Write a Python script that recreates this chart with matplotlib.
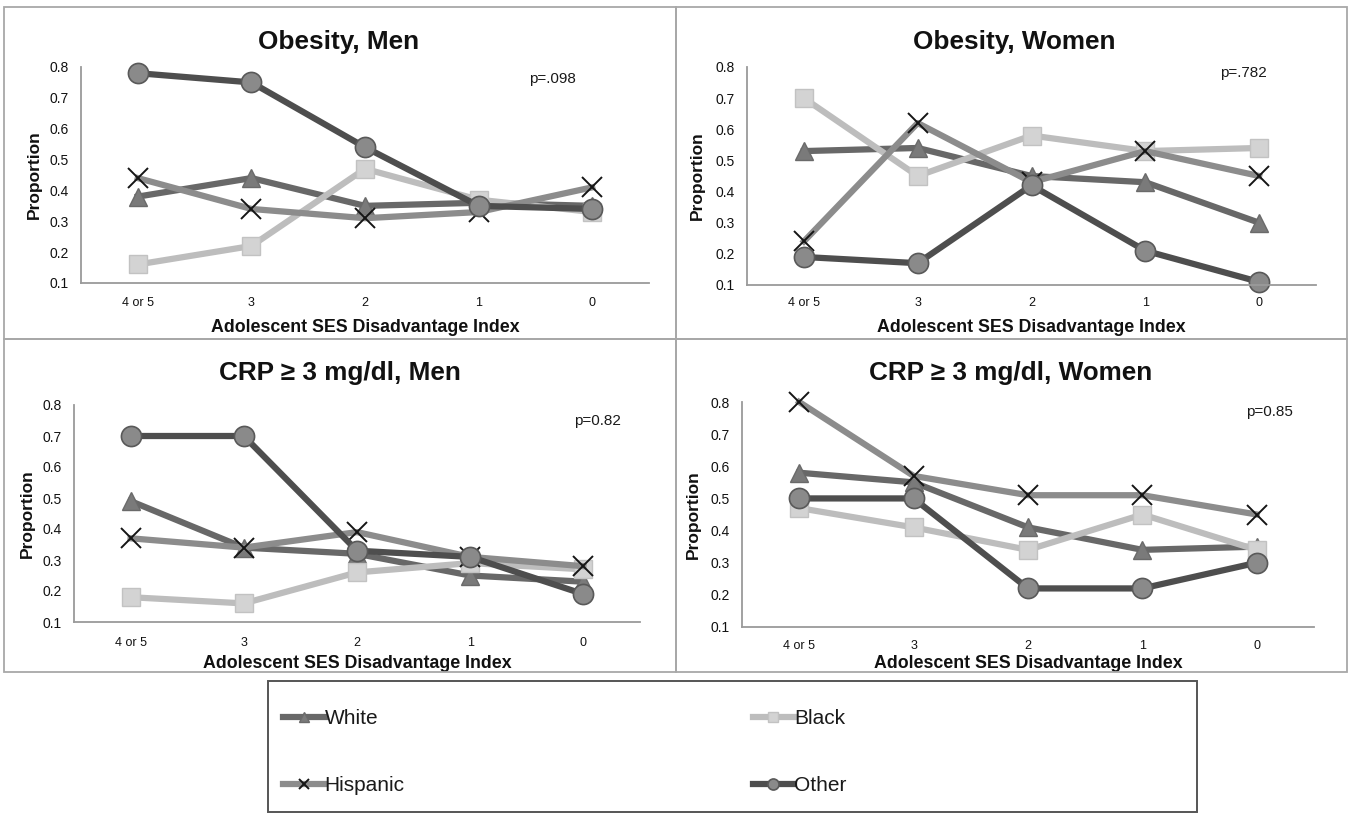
import matplotlib
matplotlib.use("Agg")
import matplotlib.pyplot as plt
from matplotlib.patches import Rectangle

plt.rcParams['font.family'] = ['Liberation Sans', 'DejaVu Sans']

# ---- data -------------------------------------------------------------
categories = ['4 or 5', '3', '2', '1', '0']
groups = ['White', 'Black', 'Hispanic', 'Other']

obesity_men_white = [0.38, 0.44, 0.35, 0.36, 0.35]
obesity_men_black = [0.16, 0.22, 0.47, 0.37, 0.33]
obesity_men_hispanic = [0.44, 0.34, 0.31, 0.33, 0.41]
obesity_men_other = [0.78, 0.75, 0.54, 0.35, 0.34]

obesity_women_white = [0.53, 0.54, 0.45, 0.43, 0.30]
obesity_women_black = [0.70, 0.45, 0.58, 0.53, 0.54]
obesity_women_hispanic = [0.24, 0.62, 0.43, 0.53, 0.45]
obesity_women_other = [0.19, 0.17, 0.42, 0.21, 0.11]

crp_men_white = [0.49, 0.34, 0.32, 0.25, 0.23]
crp_men_black = [0.18, 0.16, 0.26, 0.29, 0.27]
crp_men_hispanic = [0.37, 0.34, 0.39, 0.31, 0.28]
crp_men_other = [0.70, 0.70, 0.33, 0.31, 0.19]

crp_women_white = [0.58, 0.55, 0.41, 0.34, 0.35]
crp_women_black = [0.47, 0.41, 0.34, 0.45, 0.34]
crp_women_hispanic = [0.80, 0.57, 0.51, 0.51, 0.45]
crp_women_other = [0.50, 0.50, 0.22, 0.22, 0.30]

panel_titles = ['Obesity, Men', 'Obesity, Women',
                'CRP \u2265 3 mg/dl, Men', 'CRP \u2265 3 mg/dl, Women']
panel_pvalues = ['p=.098', 'p=.782', 'p=0.82', 'p=0.85']
yticks = [0.1, 0.2, 0.3, 0.4, 0.5, 0.6, 0.7, 0.8]

panel_series = [
    [obesity_men_white, obesity_men_black, obesity_men_hispanic, obesity_men_other],
    [obesity_women_white, obesity_women_black, obesity_women_hispanic, obesity_women_other],
    [crp_men_white, crp_men_black, crp_men_hispanic, crp_men_other],
    [crp_women_white, crp_women_black, crp_women_hispanic, crp_women_other],
]

# ---- styling ----------------------------------------------------------
styles = {
    'White': dict(color='#686868', marker='^', markerfacecolor='#7a7a7a',
                  markeredgecolor='#6a6a6a', markersize=13),
    'Black': dict(color='#bdbdbd', marker='s', markerfacecolor='#d3d3d3',
                  markeredgecolor='#c2c2c2', markersize=13),
    'Hispanic': dict(color='#8c8c8c', marker='x', markeredgecolor='#151515',
                     markeredgewidth=1.4, markersize=14),
    'Other': dict(color='#4e4e4e', marker='o', markerfacecolor='#8a8a8a',
                  markeredgecolor='#595959', markeredgewidth=1.2, markersize=14.5),
}

W, H = 1351, 815
fig = plt.figure(figsize=(W / 100, H / 100), dpi=100)
fig.patch.set_facecolor('white')


def fx(px):
    return px / W


def fy(py):
    return 1 - py / H


# axes rectangles in pixels: left, top, right, bottom
axes_px = [
    (81, 67, 649, 283),
    (747, 67, 1316, 285),
    (74, 405, 640, 622),
    (742, 402, 1314, 627),
]
title_px = [(339, 42), (1014, 42), (340, 373), (1011, 373)]
pval_px = [(552, 79), (1243, 73), (597, 421), (1269, 412)]
xtick_y_px = [302, 302, 642, 645]
xlabel_y_px = [327, 328, 663, 663]
ylabel_x_px = [34, 697, 27, 693]

# panel frames
frames_px = [(4, 7, 676, 339), (676, 7, 1347, 339),
             (4, 339, 676, 672), (676, 339, 1347, 672)]
for (l, t, r, b) in frames_px:
    fig.add_artist(Rectangle((fx(l), fy(b)), fx(r - l), (b - t) / H,
                             transform=fig.transFigure, fill=False,
                             edgecolor='#a8a8a8', linewidth=1.3))

x = list(range(len(categories)))
handles = {}
for i, (l, t, r, b) in enumerate(axes_px):
    ax = fig.add_axes([fx(l), fy(b), fx(r - l), (b - t) / H])
    for name, vals in zip(groups, panel_series[i]):
        ln, = ax.plot(x, vals, linewidth=4.5, label=name, clip_on=False,
                      solid_joinstyle='round', **styles[name])
        if i == 0:
            handles[name] = ln
    ax.set_xlim(-0.5, len(categories) - 0.5)
    ax.set_ylim(0.1, 0.8)
    ax.set_xticks(x)
    ax.set_xticklabels(categories)
    ax.set_yticks(yticks)
    ax.set_yticklabels([f'{v:.1f}' for v in yticks])
    for s in ('top', 'right'):
        ax.spines[s].set_visible(False)
    for s in ('left', 'bottom'):
        ax.spines[s].set_color('#9a9a9a')
        ax.spines[s].set_linewidth(1.3)
    hpx = b - t
    xpad = (xtick_y_px[i] - b - 5) * 0.72
    ax.tick_params(axis='x', length=0, pad=xpad, labelsize=9, labelcolor='#111111')
    ax.tick_params(axis='y', length=0, pad=9, labelsize=10, labelcolor='#111111')
    ax.set_xlabel('Adolescent SES Disadvantage Index', fontsize=12.8,
                  fontweight='bold', color='#111111')
    ax.xaxis.set_label_coords(0.5, (b - xlabel_y_px[i]) / hpx)
    ax.xaxis.label.set_va('center')
    ax.set_ylabel('Proportion', fontsize=12.5, fontweight='bold', color='#111111')
    ax.yaxis.set_label_coords((ylabel_x_px[i] - l) / (r - l), 0.5)
    ax.yaxis.label.set_va('center')
    ax.set_facecolor('none')

    tx, ty = title_px[i]
    fig.text(fx(tx), fy(ty), panel_titles[i], ha='center', va='center',
             fontsize=18.8, fontweight='bold', color='#111111')
    px_, py_ = pval_px[i]
    fig.text(fx(px_), fy(py_), panel_pvalues[i], ha='center', va='center',
             fontsize=11, color='#1a1a1a')

# legend frame and entries (rows: White/Black, Hispanic/Other)
fig.add_artist(Rectangle((fx(268), fy(812)), fx(1197 - 268), (812 - 681) / H,
                         transform=fig.transFigure, fill=False,
                         edgecolor='#555555', linewidth=1.4))
legend_order = ['White', 'Hispanic', 'Black', 'Other']
leg = fig.legend([handles[n] for n in legend_order], legend_order,
                 loc='upper left', bbox_to_anchor=(fx(283), fy(709)),
                 ncol=2, frameon=False, fontsize=15, handlelength=2.0,
                 handletextpad=0.0, columnspacing=16.7, labelspacing=2.3,
                 markerscale=0.55, borderpad=0, borderaxespad=0)
for txt in leg.get_texts():
    txt.set_color('#1a1a1a')

fig.savefig('out.png', dpi=100, facecolor='white')
